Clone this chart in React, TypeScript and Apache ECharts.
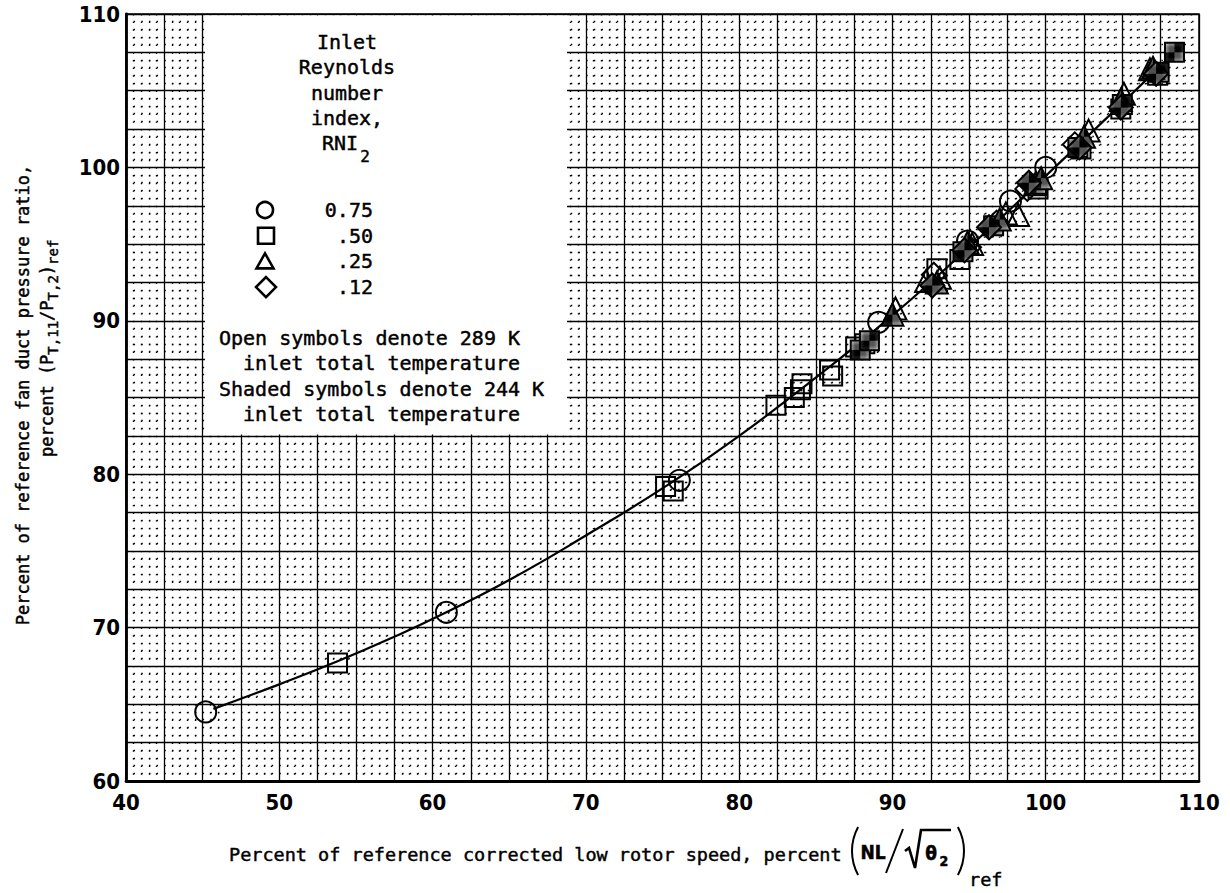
import React, { useEffect, useRef } from 'react';
import * as echarts from 'echarts';

const MONO = "'DejaVu Sans Mono', monospace";
const NARROW = "'Liberation Sans Narrow', 'DejaVu Sans Condensed', sans-serif";

// Axis ranges (percent of reference)
const xRange = [40, 110];
const yRange = [60, 110];

// Faired curve through the data
const fairedCurve = [
  [45.7, 64.7], [50, 66.3], [53.8, 67.8], [57.5, 69.4], [60.9, 71.0], [65, 73.1],
  [70, 76.0], [75.5, 79.4], [80, 82.5], [85, 86.3], [90, 90.35], [95, 94.8],
  [100, 99.45], [105, 104.2], [108.3, 107.4],
];

// RNI2 = 0.75, circles
const circleOpen = [
  [45.2, 64.5], [60.9, 71.0], [76.1, 79.6], [89.1, 89.9], [94.9, 95.2], [97.7, 97.8], [100.0, 100.0],
];
// RNI2 = 0.50, squares
const squareOpen = [
  [53.8, 67.7], [75.2, 79.2], [75.7, 78.9], [82.4, 84.5], [83.6, 85.0], [84.0, 85.5], [84.1, 85.9],
  [85.9, 86.8], [86.1, 86.4], [87.6, 88.3], [88.2, 88.5], [92.9, 93.4], [94.4, 94.0], [99.5, 98.6],
  [102.3, 101.2], [104.9, 103.8], [107.3, 106.0],
];
const squareShaded = [
  [87.9, 88.1], [88.5, 88.7], [94.6, 94.5], [96.6, 96.2], [99.4, 98.9], [102.1, 101.3],
  [105.0, 104.1], [107.4, 106.2], [108.4, 107.5],
];
// RNI2 = 0.25, triangles
const triangleOpen = [
  [90.2, 90.8], [92.2, 92.6], [93.1, 92.8], [95.2, 95.0], [97.4, 97.0], [98.2, 96.9], [99.3, 98.9],
  [102.8, 102.4], [105.1, 104.8], [106.8, 106.4],
];
const triangleShaded = [
  [90.0, 90.4], [92.9, 92.5], [94.9, 95.1], [97.0, 96.6], [99.7, 99.3], [102.5, 102.0],
  [104.9, 104.4], [107.0, 106.5],
];
// RNI2 = 0.12, diamonds
const diamondOpen = [
  [92.7, 93.0], [95.0, 94.8], [96.8, 96.4], [98.8, 98.6], [101.9, 101.5],
];
const diamondShaded = [
  [92.6, 92.3], [94.7, 94.6], [96.3, 96.1], [98.9, 99.0], [102.2, 101.3], [104.9, 103.9], [107.2, 106.1],
];

const legendRows = [
  { symbol: 'circle', label: '0.75' },
  { symbol: 'rect', label: '.50' },
  { symbol: 'triangle', label: '.25' },
  { symbol: 'diamond', label: '.12' },
];
const legendTitle = ['Inlet', 'Reynolds', 'number', 'index,'];
const legendNotes = [
  'Open symbols denote 289 K',
  '  inlet total temperature',
  'Shaded symbols denote 244 K',
  '  inlet total temperature',
];

function makeHatch() {
  const c = document.createElement('canvas');
  c.width = 6;
  c.height = 6;
  const ctx = c.getContext('2d')!;
  ctx.fillStyle = '#fff';
  ctx.fillRect(0, 0, 6, 6);
  ctx.strokeStyle = '#000';
  ctx.lineWidth = 1.6;
  ctx.beginPath();
  ctx.moveTo(-1, 7); ctx.lineTo(7, -1);
  ctx.moveTo(-4, 4); ctx.lineTo(4, -4);
  ctx.moveTo(2, 10); ctx.lineTo(10, 2);
  ctx.stroke();
  return { image: c, repeat: 'repeat', imageWidth: 6, imageHeight: 6 } as any;
}

// typed text, slightly heavier than the plain face
function txt(text: string, x: number, y: number, font: string, align = 'left', vAlign = 'middle', z = 20) {
  return {
    type: 'text',
    z,
    style: {
      text, x, y, font, fill: '#000', stroke: '#000', lineWidth: 0.45,
      align, textAlign: align, verticalAlign: vAlign, textVerticalAlign: vAlign,
    },
  };
}

export default function App() {
  const ref = useRef<HTMLDivElement>(null);

  useEffect(() => {
    if (!ref.current) return;
    const chart = echarts.init(ref.current, undefined, { renderer: 'svg' });
    const hatch = makeHatch();

    const scatter = (name: string, data: number[][], symbol: string, size: number, shaded: boolean) => ({
      name,
      type: 'scatter',
      data,
      symbol,
      symbolSize: size,
      z: shaded ? 4 : 3,
      itemStyle: {
        color: shaded ? hatch : 'rgba(255,255,255,0)',
        borderColor: '#000',
        borderWidth: 2,
        opacity: 1,
      },
    });

    const fmt = (v: number) => (v % 10 === 0 ? String(v) : '');
    const labelStyle = { color: '#000', fontFamily: NARROW, fontWeight: 'bold', fontSize: 22 };
    const minorDots = { color: '#000', width: 1.4, type: [1.4, 6.27] };

    // legend text
    const L = 20;
    const legendFont = `normal ${L}px ${MONO}`;
    const legendSub = `normal 16px ${MONO}`;

    // axis titles
    const T = 18.5;
    const titleFont = `normal ${T}px ${MONO}`;
    const Y = 17;
    const YS = 14;
    const ay = 0.6021 * Y;
    const ays = 0.6021 * YS;
    const yFont = `normal ${Y}px ${MONO}`;
    const ySub = `normal ${YS}px ${MONO}`;

    // second line of the y-axis title, laid out along the rotated baseline
    const pieces: any[] = [];
    let cx = -62;
    const add = (t: string, sub: boolean) => {
      pieces.push(txt(t, cx, sub ? 30 : 24, sub ? ySub : yFont, 'left', 'middle'));
      cx += t.length * (sub ? ays : ay);
    };
    add('percent (P', false);
    add('T,11', true);
    add('/P', false);
    add('T,2', true);
    add(')', false);
    add('ref', true);

    const legendSymbols: any[] = [];
    legendRows.forEach((r, i) => {
      const cy = 210 + i * 25.7;
      const st = { fill: 'none', stroke: '#000', lineWidth: 2.6 };
      if (r.symbol === 'circle') legendSymbols.push({ type: 'circle', z: 20, shape: { cx: 265, cy, r: 8 }, style: st });
      if (r.symbol === 'rect') legendSymbols.push({ type: 'rect', z: 20, shape: { x: 258, y: cy - 8, width: 16, height: 16 }, style: st });
      if (r.symbol === 'triangle') legendSymbols.push({ type: 'polygon', z: 20, shape: { points: [[265, cy - 8], [273.5, cy + 7], [256.5, cy + 7]] }, style: st });
      if (r.symbol === 'diamond') legendSymbols.push({ type: 'polygon', z: 20, shape: { points: [[266, cy - 10], [276, cy], [266, cy + 10], [256, cy]] }, style: st });
      legendSymbols.push(txt(r.label, 373, cy, legendFont, 'right', 'middle'));
    });

    const option: any = {
      animation: false,
      backgroundColor: '#fff',
      grid: { left: 126, right: 31, top: 14, bottom: 112, show: true, borderColor: '#000', borderWidth: 1.5 },
      xAxis: {
        type: 'value', min: xRange[0], max: xRange[1], interval: 2.5,
        axisLine: { show: true, onZero: false, lineStyle: { color: '#000', width: 2.8 } },
        axisTick: { show: false },
        axisLabel: { ...labelStyle, formatter: fmt, margin: 10, showMinLabel: true, showMaxLabel: true },
        splitLine: { show: true, lineStyle: { color: '#000', width: 1.3 } },
        minorTick: { show: false, splitNumber: 5 },
        minorSplitLine: { show: true, lineStyle: minorDots },
      },
      yAxis: {
        type: 'value', min: yRange[0], max: yRange[1], interval: 2.5,
        axisLine: { show: true, onZero: false, lineStyle: { color: '#000', width: 2.8 } },
        axisTick: { show: false },
        axisLabel: { ...labelStyle, formatter: fmt, margin: 6, showMinLabel: true, showMaxLabel: true },
        splitLine: { show: true, lineStyle: { color: '#000', width: 1.3 } },
        minorTick: { show: false, splitNumber: 5 },
        minorSplitLine: { show: true, lineStyle: minorDots },
      },
      series: [
        {
          name: 'faired', type: 'line', data: fairedCurve, smooth: true, showSymbol: false, symbol: 'none',
          z: 2, lineStyle: { color: '#000', width: 2.2 },
        },
        scatter('0.75 open', circleOpen, 'circle', 21, false),
        scatter('0.50 open', squareOpen, 'rect', 19, false),
        scatter('0.50 shaded', squareShaded, 'rect', 19, true),
        scatter('0.25 open', triangleOpen, 'triangle', 22, false),
        scatter('0.25 shaded', triangleShaded, 'triangle', 22, true),
        scatter('0.12 open', diamondOpen, 'diamond', 24, false),
        scatter('0.12 shaded', diamondShaded, 'diamond', 24, true),
      ],
      graphic: [
        // legend panel
        { type: 'rect', z: 10, shape: { x: 205, y: 15.5, width: 362, height: 419 }, style: { fill: '#fff' } },
        ...legendTitle.map((t, i) => txt(t, 347, 42 + i * 25.3, legendFont, 'center', 'middle')),
        txt('RNI', 340, 143, legendFont, 'center', 'middle'),
        txt('2', 365, 156, legendSub, 'center', 'middle'),
        ...legendSymbols,
        ...legendNotes.map((t, i) => txt(t, 219, 338 + i * 25.3, legendFont, 'left', 'middle')),
        // y-axis title
        {
          type: 'group', x: 23, y: 395, rotation: Math.PI / 2,
          children: [
            txt('Percent of reference fan duct pressure ratio,', 0, 0, yFont, 'center', 'middle'),
            ...pieces,
          ],
        },
        // x-axis title
        txt('Percent of reference corrected low rotor speed, percent', 229, 854, titleFont, 'left', 'middle'),
        { type: 'arc', z: 20, shape: { cx: 902, cy: 851, r: 50, startAngle: Math.PI - 0.5, endAngle: Math.PI + 0.5 }, style: { stroke: '#000', lineWidth: 2, fill: 'none' } },
        txt('NL', 873, 852, `bold 19px ${NARROW}`, 'center', 'middle'),
        { type: 'line', z: 20, shape: { x1: 886, y1: 873, x2: 903, y2: 829 }, style: { stroke: '#000', lineWidth: 2 } },
        { type: 'polyline', z: 20, shape: { points: [[905, 851], [909, 848], [915, 868], [921, 830], [951, 830]] }, style: { stroke: '#000', lineWidth: 2.6, fill: 'none' } },
        txt('θ', 931, 853, `bold 19px ${NARROW}`, 'center', 'middle'),
        txt('2', 944, 861, `bold 14px ${NARROW}`, 'center', 'middle'),
        { type: 'arc', z: 20, shape: { cx: 914, cy: 851, r: 50, startAngle: -0.5, endAngle: 0.5 }, style: { stroke: '#000', lineWidth: 2, fill: 'none' } },
        txt('ref', 969, 879, titleFont, 'left', 'middle'),
      ],
    };

    chart.setOption(option);
    return () => chart.dispose();
  }, []);

  return (
    <div
      ref={ref}
      style={{ position: 'absolute', left: 0, top: 0, width: 1230, height: 893, background: '#fff' }}
    />
  );
}
